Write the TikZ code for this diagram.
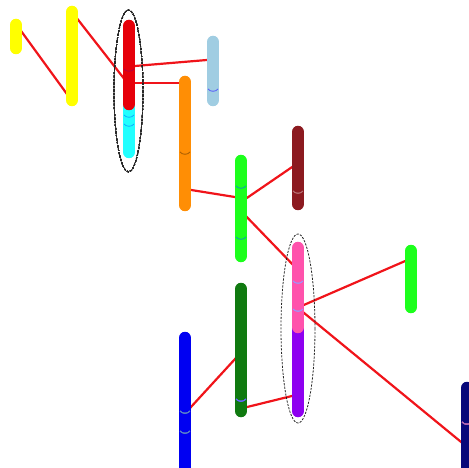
\documentclass[tikz,border=0pt]{standalone}
\usepackage{tikz}
\definecolor{chrYel}{HTML}{FFFF00}
\definecolor{chrRed}{HTML}{E6000A}
\definecolor{chrCyan}{HTML}{22FFFF}
\definecolor{chrLBlue}{HTML}{A0CDE2}
\definecolor{chrOrange}{HTML}{FF8E05}
\definecolor{chrLime}{HTML}{1CFF1C}
\definecolor{chrDRed}{HTML}{8C1A20}
\definecolor{chrPink}{HTML}{FF52AC}
\definecolor{chrPurple}{HTML}{8E00F0}
\definecolor{chrDGreen}{HTML}{107A10}
\definecolor{chrBlue}{HTML}{0000F2}
\definecolor{chrNavy}{HTML}{08087A}
\definecolor{linkRed}{HTML}{F0141A}
\tikzset{
  chrom/.style={line width=12.5pt, line cap=round},
  link/.style={linkRed, line width=2.2pt},
  groupring/.style={black!85, line width=0.8pt, dash pattern=on 2.2pt off 1.3pt},
  bandline/.style={line width=0.7pt, opacity=0.6}
}
\newcommand{\bandarc}[3]{\draw[bandline, #3] (#1-5,#2) .. controls (#1-3,#2+3) and (#1+3,#2+3) .. (#1+5,#2);}
\begin{document}
\begin{tikzpicture}[x=1pt, y=-1pt, line join=round]
	\clip (0,0) rectangle (469,468);
	% link end points
	\coordinate (ysA) at (16,24);
	\coordinate (ytA) at (72,101);
	\coordinate (ytB) at (72,12);
	\coordinate (rdA) at (129,85);
	\coordinate (rdB) at (129,66.5);
	\coordinate (lbA) at (213,59.5);
	\coordinate (rdC) at (129,83);
	\coordinate (orA) at (185,83);
	\coordinate (orB) at (185,189);
	\coordinate (gnA) at (241,198);
	\coordinate (gnB) at (241,202);
	\coordinate (drA) at (298,163);
	\coordinate (gnC) at (241,211);
	\coordinate (pkA) at (298,270);
	\coordinate (pkB) at (298,307.5);
	\coordinate (g2A) at (411,258.5);
	\coordinate (pkC) at (298,308);
	\coordinate (nvA) at (466,446);
	\coordinate (blA) at (185,413.5);
	\coordinate (dgA) at (241,352.5);
	\coordinate (dgB) at (241,408.5);
	\coordinate (ppA) at (298,394.5);
	% links
	\draw[link] (ysA) -- (ytA);
	\draw[link] (ytB) -- (rdA);
	\draw[link] (rdB) -- (lbA);
	\draw[link] (rdC) -- (orA);
	\draw[link] (orB) -- (gnA);
	\draw[link] (gnB) -- (drA);
	\draw[link] (gnC) -- (pkA);
	\draw[link] (pkB) -- (g2A);
	\draw[link] (pkC) -- (nvA);
	\draw[link] (blA) -- (dgA);
	\draw[link] (dgB) -- (ppA);
	% chromosomes
	\draw[chrom, chrYel] (16,25) -- (16,48);
	\draw[chrom, chrYel] (72,12) -- (72,100);
	\draw[chrom, chrCyan] (129,104) -- (129,152);
	\draw[chrom, chrRed] (129,26) -- (129,104);
	\draw[chrom, chrLBlue] (213,42) -- (213,100);
	\draw[chrom, chrOrange] (185,82) -- (185,205);
	\draw[chrom, chrLime] (241,161) -- (241,256);
	\draw[chrom, chrDRed] (298,132) -- (298,204);
	\draw[chrom, chrPurple] (298,321) -- (298,411);
	\draw[chrom, chrPink] (298,248) -- (298,327);
	\draw[chrom, chrLime] (411,251) -- (411,307);
	\draw[chrom, chrDGreen] (241,289) -- (241,411);
	\draw[chrom, chrBlue] (185,338) -- (185,475);
	\draw[chrom, chrNavy] (467,388) -- (467,480);
	% bands
	\bandarc{129}{69}{chrRed!60!blue}
	\foreach \yy in {115,124} \bandarc{129}{\yy}{blue!60!cyan}
	\bandarc{213}{89}{blue!70}
	\bandarc{185}{152}{chrOrange!60!black}
	\foreach \yy in {186,237} \bandarc{241}{\yy}{cyan!70!blue}
	\bandarc{298}{191}{chrDRed!60!white}
	\foreach \yy in {281,309} \bandarc{298}{\yy}{blue!40!white}
	\bandarc{241}{399}{blue!60}
	\foreach \yy in {411,431} \bandarc{185}{\yy}{cyan!40!blue!70!white}
	\bandarc{467}{422}{violet!60!white}
	% groups
	\draw[groupring] (128.5,91) ellipse (14.5 and 81);
	\draw[groupring] (298,328.5) ellipse (17 and 94.5);
\end{tikzpicture}
\end{document}
